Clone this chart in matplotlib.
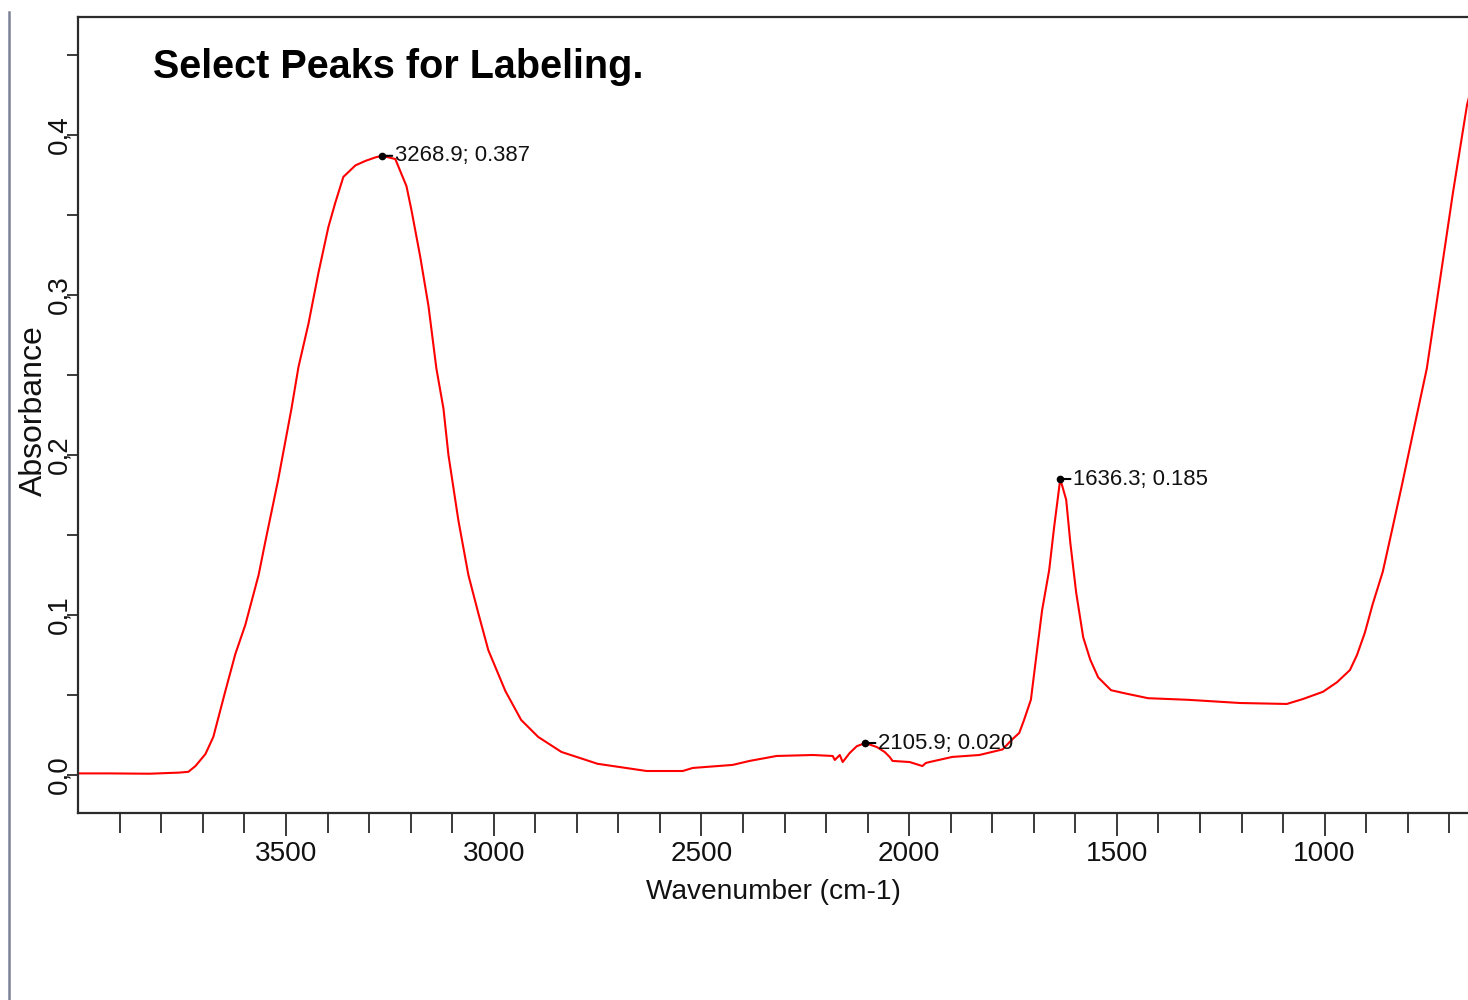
import matplotlib
matplotlib.use("Agg")
import matplotlib.pyplot as plt
from matplotlib.ticker import MultipleLocator, FixedLocator, FuncFormatter
from matplotlib.lines import Line2D
from matplotlib import font_manager as fm

# ---- data ----
wavenumber = [4000, 3925, 3829, 3757, 3735, 3718, 3694, 3675, 3646, 3622,
              3598, 3566, 3550, 3519, 3487, 3470, 3446, 3422, 3398, 3381,
              3362, 3333, 3309, 3285, 3268.9, 3237, 3210, 3198, 3177, 3157,
              3138, 3121, 3109, 3085, 3061, 3037, 3013, 2972, 2934, 2893,
              2837, 2750, 2632, 2545, 2521, 2425, 2384, 2319, 2232, 2184,
              2179, 2167, 2160, 2143, 2126, 2105.9, 2078, 2059, 2047, 2040,
              1999, 1968, 1960, 1951, 1896, 1831, 1775, 1753, 1735, 1724,
              1707, 1695, 1680, 1663, 1651, 1636.3, 1622, 1612, 1598, 1581,
              1564, 1545, 1514, 1480, 1425, 1329, 1204, 1091, 1052, 1004,
              970, 939, 922, 903, 884, 860, 836, 814, 787, 754,
              723, 691, 657, 650]
absorbance = [0.001, 0.001, 0.0008, 0.0015, 0.002, 0.0056, 0.0131, 0.0238, 0.0525, 0.0756,
              0.0938, 0.125, 0.1456, 0.1844, 0.2288, 0.255, 0.282, 0.3138, 0.3425, 0.358,
              0.3738, 0.381, 0.3838, 0.386, 0.387, 0.385, 0.368, 0.353, 0.324, 0.293,
              0.254, 0.229, 0.200, 0.159, 0.125, 0.101, 0.078, 0.0525, 0.0344, 0.0238,
              0.0144, 0.007, 0.0025, 0.0025, 0.0044, 0.0063, 0.0088, 0.0119, 0.0125, 0.0119,
              0.0094, 0.0125, 0.0081, 0.0138, 0.018, 0.020, 0.0175, 0.0144, 0.0113, 0.0088,
              0.0081, 0.0056, 0.0075, 0.0081, 0.0113, 0.0125, 0.016, 0.022, 0.0263, 0.034,
              0.047, 0.072, 0.103, 0.128, 0.155, 0.185, 0.172, 0.145, 0.114, 0.086,
              0.072, 0.061, 0.053, 0.051, 0.048, 0.047, 0.045, 0.0444, 0.0475, 0.052,
              0.058, 0.0656, 0.075, 0.089, 0.107, 0.127, 0.155, 0.181, 0.214, 0.254,
              0.308, 0.364, 0.419, 0.426]

peak_wn = [3268.9, 2105.9, 1636.3]
peak_abs = [0.387, 0.020, 0.185]
peak_labels = ["3268.9; 0.387", "2105.9; 0.020", "1636.3; 0.185"]

x_major_ticks = [3500, 3000, 2500, 2000, 1500, 1000]
x_minor_ticks = list(range(3900, 650, -100))

title_text = "Select Peaks for Labeling."
xlabel_text = "Wavenumber (cm-1)"
ylabel_text = "Absorbance"

# ---- fonts ----
names = {f.name for f in fm.fontManager.ttflist}
has_narrow = "Liberation Sans Narrow" in names
narrow = "Liberation Sans Narrow" if has_narrow else "Liberation Sans"
NARROW = [narrow, "DejaVu Sans"]
REG = ["Liberation Sans", "DejaVu Sans"]
k = 1.0 if has_narrow else 0.84   # shrink wide fallback so widths stay close

fig = plt.figure(figsize=(14.68, 10.0), dpi=100)
fig.patch.set_facecolor("white")

ax = fig.add_axes([78.3 / 1468, 1 - 813 / 1000, 1 - 78.3 / 1468, (813 - 17) / 1000])
ax.plot(wavenumber, absorbance, color="#ff0000", lw=1.5)
ax.set_xlim(4000, 654.8)
ax.set_ylim(-0.02375, 0.47375)

for sp in ["left", "top", "bottom"]:
    ax.spines[sp].set_color("#2b2b2b")
    ax.spines[sp].set_linewidth(1.6)
ax.spines["right"].set_visible(False)

ax.xaxis.set_major_locator(FixedLocator(x_major_ticks))
ax.xaxis.set_minor_locator(FixedLocator(x_minor_ticks))
ax.yaxis.set_major_locator(MultipleLocator(0.1))
ax.yaxis.set_minor_locator(MultipleLocator(0.05))
ax.yaxis.set_major_formatter(FuncFormatter(lambda v, p: f"{v:.1f}".replace(".", ",").replace("-0,0", "0,0")))

ax.tick_params(axis="x", which="major", direction="out", length=16.5, width=1.3,
               color="#2b2b2b", pad=4, labelsize=24 * k)
ax.tick_params(axis="x", which="minor", direction="out", length=14.5, width=1.3, color="#2b2b2b")
ax.tick_params(axis="y", which="both", direction="out", length=8, width=1.3,
               color="#2b2b2b", pad=-4, labelsize=20)
ax.tick_params(top=False, right=False)
for lab in ax.get_xticklabels():
    lab.set_family(NARROW)
    lab.set_color("#111111")
for lab in ax.get_yticklabels():
    lab.set_family(REG)
    lab.set_rotation(90)
    lab.set_va("center")
    lab.set_color("#111111")

ax.set_xlabel(xlabel_text, fontsize=24 * k, family=NARROW, color="#111111", labelpad=8)

# peak markers and labels
ax.plot(peak_wn, peak_abs, "o", color="black", ms=4.5, zorder=5)
for wn, a, t in zip(peak_wn, peak_abs, peak_labels):
    ax.annotate(t, xy=(wn, a), xytext=(13, 0), textcoords="offset pixels",
                ha="left", va="center", fontsize=19 * k, family=NARROW, color="#111111",
                arrowprops=dict(arrowstyle="-", color="black", lw=1.5, shrinkA=0, shrinkB=0),
                zorder=6)

fig.text(42 / 1468, 1 - 411 / 1000, ylabel_text, rotation=90, rotation_mode="anchor",
         ha="center", va="baseline", fontsize=23, family=REG, color="#111111")
fig.text(153 / 1468, 1 - 78 / 1000, title_text, ha="left", va="baseline",
         fontsize=34 * k, fontweight="bold", family=NARROW, color="black")

# window border line on the left
fig.add_artist(Line2D([8.5 / 1468, 8.5 / 1468], [0, 1 - 12 / 1000], transform=fig.transFigure,
                      color="#7c8196", lw=1.8))

fig.savefig("out.png", dpi=100, facecolor="white")
